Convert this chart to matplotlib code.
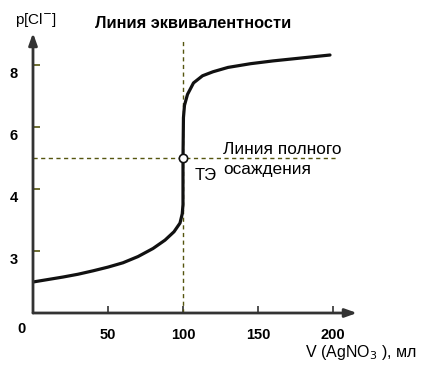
"""Precipitation titration curve: p[Cl-] vs volume of AgNO3."""

import matplotlib

matplotlib.use("Agg")
import matplotlib.pyplot as plt
from matplotlib.transforms import ScaledTranslation

plt.rcParams["font.family"] = ["Liberation Sans", "DejaVu Sans"]

# titration curve
volume_ml = [0, 10, 20, 30, 40, 50, 60, 70, 80, 88, 94, 98, 99.5, 100,
             100, 100.3, 101, 103, 107, 113, 120, 130, 145, 160, 180, 198]
p_cl = [1.0, 1.08, 1.16, 1.25, 1.36, 1.48, 1.62, 1.82, 2.08, 2.35, 2.62, 2.9, 3.2, 3.5,
        5.0, 6.3, 6.7, 7.05, 7.42, 7.65, 7.78, 7.92, 8.04, 8.13, 8.23, 8.32]

equiv_volume = 100
equiv_p_cl = 5.0

x_ticks = [50, 100, 150, 200]
x_tick_labels = ["50", "100", "150", "200"]
y_ticks = [2, 4, 6, 8]
y_tick_labels = ["3", "4", "6", "8"]

fig = plt.figure(figsize=(4.41, 3.68), dpi=100)
ax = fig.add_axes([33 / 441, 55 / 368, 324 / 441, 280 / 368])
ax.set_xlim(0, 216)
ax.set_ylim(0, 9.03)

for side in ["top", "right", "left", "bottom"]:
    ax.spines[side].set_visible(False)

axis_color = "#333333"
guide_color = "#55550f"
arrow = dict(arrowstyle="-|>,head_length=0.7,head_width=0.25", lw=2, color=axis_color,
             shrinkA=0, shrinkB=0)
ax.annotate("", xy=(1, 0), xytext=(0, 0), xycoords="axes fraction", arrowprops=arrow)
ax.annotate("", xy=(0, 1), xytext=(0, 0), xycoords="axes fraction", arrowprops=arrow)

# guide lines
ax.plot([equiv_volume, equiv_volume], [0, 8.8], ls=(0, (3, 2.5)), lw=1, color=guide_color)
ax.plot([0, 203], [equiv_p_cl, equiv_p_cl], ls=(0, (3, 2.5)), lw=1, color=guide_color)

ax.plot(volume_ml, p_cl, color="#111111", lw=2.3, solid_capstyle="round")
ax.plot([equiv_volume], [equiv_p_cl], "o", ms=6, mfc="white", mec="#111111", mew=1.2)

ax.set_xticks(x_ticks, x_tick_labels)
ax.set_yticks(y_ticks, y_tick_labels)
ax.tick_params(axis="x", direction="in", length=5, width=1.2, color=axis_color,
               pad=11, labelsize=10.5)
ax.tick_params(axis="y", direction="in", length=5, width=1.2, color=guide_color,
               pad=11, labelsize=10.5)
for lab in ax.get_xticklabels() + ax.get_yticklabels():
    lab.set_fontweight("bold")
shift = ScaledTranslation(0, -0.08, fig.dpi_scale_trans)
for lab in ax.get_yticklabels():
    lab.set_transform(lab.get_transform() + shift)

ax.annotate("0", xy=(0, 0), xytext=(-8, -11.5), textcoords="offset points",
            ha="center", va="center", fontsize=10.5, fontweight="bold")

fig.text(15 / 441, 1 - 20 / 368, "p[Cl$^{-}$]", fontsize=11, va="center", ha="left")
fig.text(95 / 441, 1 - 23 / 368, "Линия эквивалентности", fontsize=11.8,
         fontweight="bold", va="center", ha="left")
fig.text(223 / 441, 1 - 150 / 368, "Линия полного", fontsize=12.4, va="center", ha="left")
fig.text(223 / 441, 1 - 170 / 368, "осаждения", fontsize=12.4, va="center", ha="left")
fig.text(195 / 441, 1 - 175 / 368, "ТЭ", fontsize=12, va="center", ha="left")
fig.text(305 / 441, 1 - 352 / 368, "V (AgNO$_3$ ), мл", fontsize=11.5,
         va="center", ha="left")

fig.savefig("out.png", dpi=100)
